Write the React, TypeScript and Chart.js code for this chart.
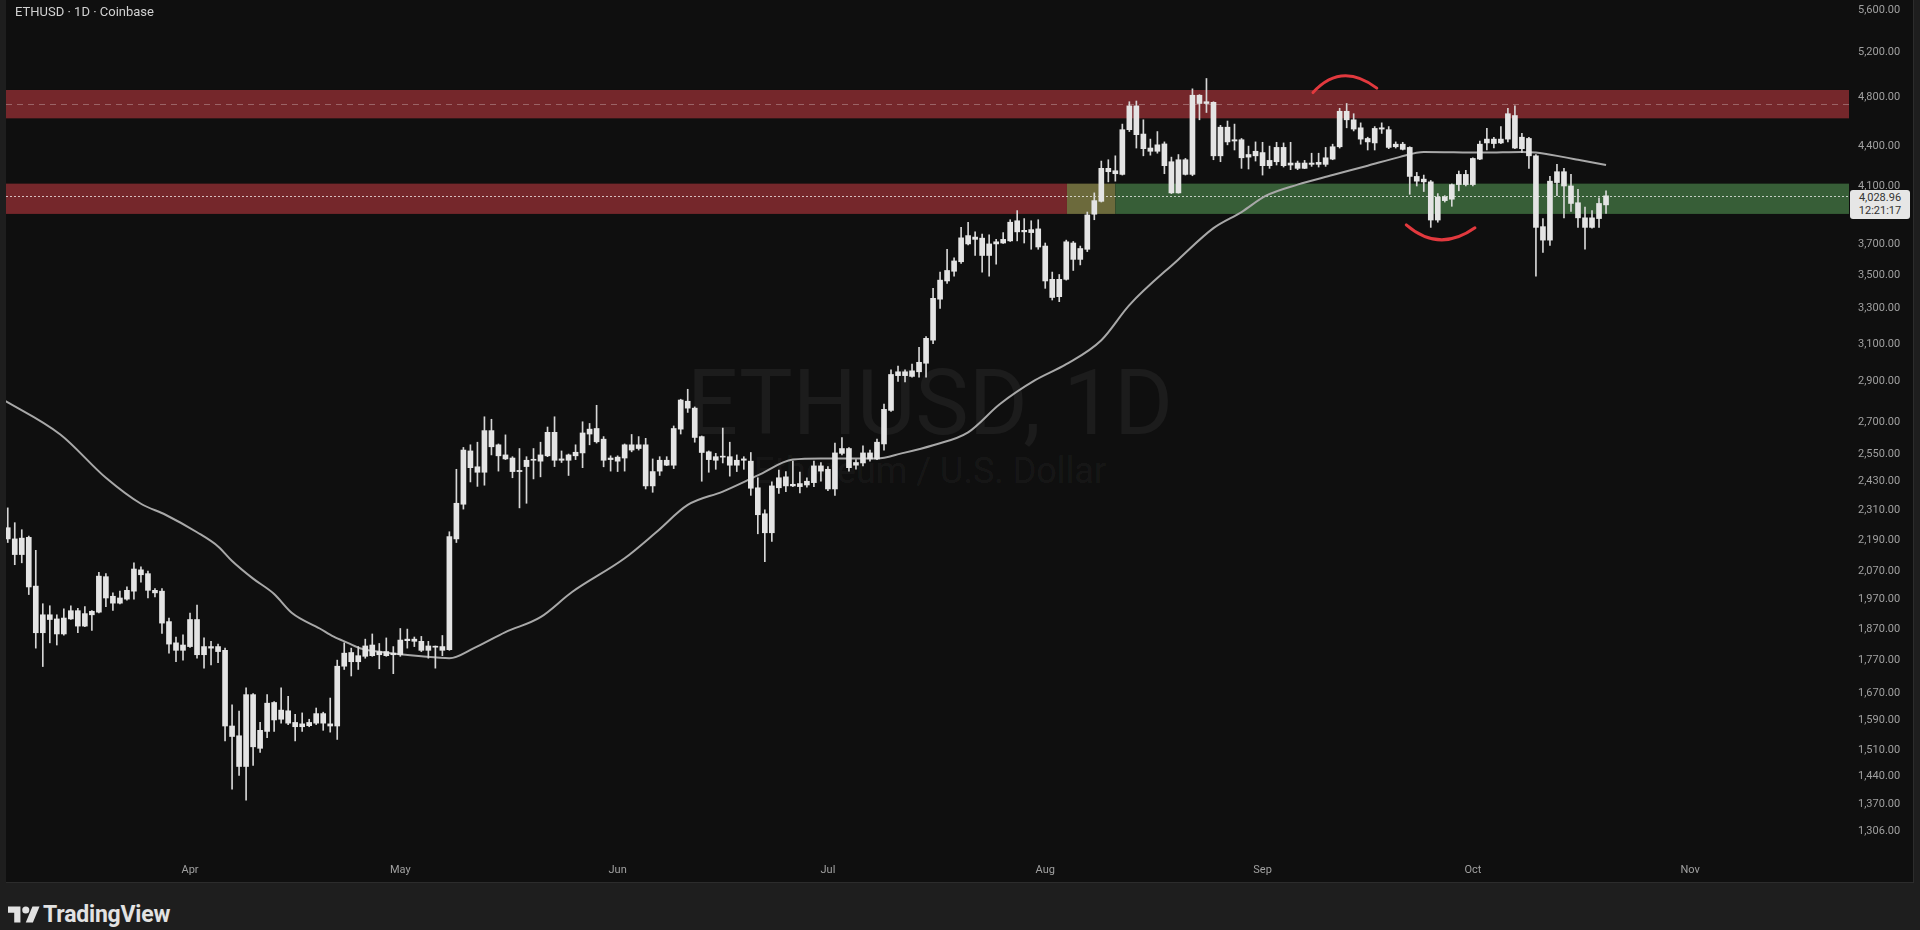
import React, { useEffect, useRef } from 'react';
import { Chart, registerables } from 'chart.js';

Chart.register(...registerables);

// Day index (Jan 1 2025 = 0) of the first daily candle (Mar 6)
const FIRST_DAY = 64;

const open = [
  2238, 2194, 2134, 2200, 2018, 1858, 1918, 1904, 1854, 1904,
  1932, 1880, 1918, 1927, 2052, 1982, 1958, 1972, 2000, 2077,
  2063, 2003, 2000, 1895, 1825, 1801, 1813, 1902, 1787, 1813,
  1813, 1801, 1575, 1548, 1466, 1665, 1514, 1560, 1642, 1594,
  1618, 1585, 1573, 1576, 1583, 1610, 1581, 1575, 1751, 1794,
  1765, 1782, 1818, 1787, 1797, 1787, 1787, 1832, 1837, 1830,
  1801, 1813, 1813, 1803, 2194, 2333, 2564, 2493, 2469, 2658,
  2592, 2546, 2532, 2472, 2494, 2522, 2518, 2542, 2650, 2522,
  2522, 2542, 2555, 2642, 2668, 2618, 2525, 2536, 2532, 2592,
  2575, 2592, 2410, 2474, 2522, 2500, 2665, 2800, 2766, 2630,
  2560, 2522, 2538, 2538, 2500, 2522, 2518, 2402, 2294, 2218,
  2402, 2449, 2410, 2420, 2414, 2424, 2497, 2482, 2397, 2553,
  2575, 2500, 2510, 2555, 2528, 2596, 2755, 2930, 2950, 2926,
  2950, 2995, 3120, 3355, 3465, 3525, 3585, 3700, 3745, 3738,
  3625, 3700, 3706, 3720, 3855, 3780, 3795, 3800, 3686, 3475,
  3370, 3475, 3706, 3600, 3665, 3900, 3990, 4230, 4190, 4185,
  4530, 4725, 4495, 4360, 4360, 4417, 4280, 4050, 4295, 4185,
  4815, 4745, 4755, 4325, 4550, 4440, 4450, 4315, 4325, 4350,
  4250, 4280, 4390, 4255, 4270, 4230, 4260, 4275, 4260, 4300,
  4395, 4680, 4610, 4545, 4460, 4425, 4535, 4530, 4395, 4415,
  4390, 4170, 4130, 4130, 3860, 3995, 4005, 4110, 4185, 4110,
  4300, 4425, 4455, 4425, 4455, 4645, 4380, 4460, 4325, 3815,
  3725, 4125, 4205, 4100, 3980, 3875, 3810, 3870, 3965,
];

const high = [
  2318, 2258, 2230, 2205, 2150, 1956, 1949, 1918, 1938, 1949,
  1940, 1946, 1932, 2068, 2063, 1994, 2000, 2015, 2103, 2088,
  2072, 2009, 2009, 1907, 1844, 1851, 1924, 1951, 1841, 1830,
  1821, 1808, 1635, 1617, 1685, 1668, 1585, 1665, 1645, 1685,
  1660, 1608, 1612, 1594, 1626, 1614, 1655, 1770, 1825, 1808,
  1813, 1837, 1854, 1823, 1841, 1813, 1872, 1870, 1844, 1846,
  1830, 1815, 1849, 2222, 2482, 2580, 2592, 2604, 2724, 2712,
  2596, 2638, 2538, 2575, 2538, 2575, 2604, 2675, 2724, 2564,
  2550, 2592, 2700, 2692, 2780, 2630, 2542, 2542, 2596, 2640,
  2630, 2622, 2528, 2538, 2538, 2680, 2810, 2860, 2772, 2633,
  2564, 2553, 2670, 2604, 2546, 2538, 2557, 2445, 2310, 2427,
  2478, 2472, 2518, 2470, 2445, 2518, 2512, 2494, 2600, 2626,
  2579, 2525, 2587, 2568, 2618, 2786, 2960, 2980, 2960, 2990,
  3080, 3140, 3420, 3520, 3665, 3610, 3810, 3845, 3780, 3765,
  3760, 3730, 3775, 3862, 3925, 3870, 3855, 3862, 3706, 3520,
  3505, 3725, 3716, 3686, 3915, 4050, 4285, 4295, 4325, 4575,
  4760, 4766, 4610, 4455, 4515, 4433, 4315, 4335, 4305, 4870,
  4820, 4960, 4760, 4565, 4600, 4575, 4460, 4400, 4433, 4430,
  4400, 4430, 4425, 4430, 4285, 4290, 4345, 4345, 4390, 4415,
  4705, 4745, 4660, 4585, 4470, 4555, 4585, 4555, 4433, 4430,
  4395, 4200, 4180, 4140, 4045, 4030, 4115, 4210, 4215, 4310,
  4440, 4540, 4470, 4555, 4705, 4725, 4500, 4470, 4335, 3870,
  4170, 4260, 4230, 4185, 4075, 3950, 3925, 4015, 4065,
];

const low = [
  2180, 2096, 2103, 1988, 1808, 1750, 1825, 1818, 1850, 1902,
  1858, 1878, 1866, 1924, 1946, 1933, 1955, 1968, 1972, 2032,
  1976, 1980, 1856, 1792, 1765, 1770, 1810, 1776, 1745, 1755,
  1762, 1534, 1408, 1443, 1381, 1469, 1503, 1543, 1560, 1583,
  1579, 1534, 1560, 1573, 1579, 1563, 1558, 1538, 1741, 1721,
  1741, 1776, 1782, 1743, 1782, 1728, 1782, 1808, 1813, 1797,
  1776, 1745, 1784, 1801, 2180, 2313, 2427, 2408, 2413, 2546,
  2474, 2525, 2445, 2318, 2337, 2440, 2449, 2538, 2494, 2512,
  2455, 2525, 2489, 2592, 2600, 2493, 2474, 2472, 2474, 2560,
  2568, 2397, 2383, 2455, 2498, 2485, 2642, 2745, 2604, 2430,
  2469, 2482, 2510, 2452, 2472, 2482, 2370, 2214, 2107, 2184,
  2378, 2386, 2407, 2380, 2405, 2407, 2430, 2390, 2370, 2546,
  2474, 2482, 2497, 2518, 2525, 2568, 2750, 2900, 2897, 2922,
  2922, 2922, 3100, 3300, 3450, 3495, 3575, 3694, 3625, 3520,
  3495, 3570, 3703, 3716, 3720, 3706, 3665, 3665, 3420, 3350,
  3340, 3470, 3530, 3565, 3650, 3862, 3985, 4130, 4135, 4180,
  4515, 4385, 4325, 4330, 4345, 4190, 4045, 4048, 4180, 4175,
  4610, 4670, 4295, 4280, 4410, 4370, 4230, 4225, 4285, 4180,
  4230, 4255, 4240, 4220, 4220, 4228, 4245, 4240, 4245, 4295,
  4385, 4545, 4520, 4415, 4370, 4370, 4500, 4380, 4385, 4370,
  4040, 4100, 4060, 3810, 3845, 3985, 3955, 4065, 4100, 4100,
  4295, 4370, 4385, 4420, 4433, 4380, 4350, 4230, 3495, 3645,
  3690, 4030, 3875, 3920, 3810, 3665, 3805, 3810, 3905,
];

const close = [
  2194, 2134, 2197, 2015, 1858, 1918, 1902, 1854, 1907, 1932,
  1880, 1922, 1930, 2054, 1976, 1958, 1976, 2003, 2080, 2059,
  2003, 1994, 1890, 1821, 1801, 1818, 1902, 1787, 1813, 1808,
  1797, 1575, 1546, 1466, 1665, 1518, 1563, 1640, 1592, 1620,
  1583, 1573, 1581, 1585, 1610, 1583, 1575, 1751, 1792, 1765,
  1784, 1815, 1784, 1797, 1784, 1792, 1834, 1837, 1830, 1801,
  1815, 1811, 1801, 2203, 2337, 2568, 2489, 2469, 2658, 2583,
  2542, 2528, 2472, 2477, 2522, 2525, 2546, 2650, 2522, 2528,
  2546, 2558, 2647, 2665, 2606, 2522, 2532, 2518, 2592, 2568,
  2592, 2410, 2472, 2522, 2500, 2668, 2806, 2766, 2626, 2557,
  2525, 2538, 2536, 2500, 2522, 2528, 2400, 2290, 2218, 2410,
  2445, 2410, 2417, 2407, 2430, 2497, 2474, 2397, 2555, 2575,
  2489, 2512, 2555, 2528, 2604, 2760, 2936, 2950, 2930, 2955,
  3000, 3130, 3360, 3470, 3530, 3590, 3740, 3755, 3730, 3625,
  3700, 3714, 3730, 3845, 3780, 3790, 3775, 3680, 3465, 3365,
  3475, 3714, 3600, 3670, 3895, 3995, 4230, 4205, 4212, 4530,
  4725, 4490, 4380, 4385, 4410, 4250, 4050, 4295, 4185, 4815,
  4745, 4760, 4325, 4550, 4433, 4450, 4310, 4335, 4360, 4250,
  4290, 4390, 4250, 4270, 4230, 4270, 4270, 4260, 4310, 4395,
  4680, 4610, 4535, 4455, 4433, 4540, 4545, 4390, 4415, 4375,
  4170, 4135, 4150, 3860, 4020, 4020, 4110, 4185, 4110, 4305,
  4415, 4455, 4420, 4455, 4660, 4385, 4470, 4325, 3810, 3725,
  4135, 4205, 4100, 3975, 3875, 3810, 3875, 3975, 4028.96,
];

// Moving average line (day index, price)
const maDays = [63, 71.5, 78, 83, 86.5, 91, 94, 96, 99, 102, 104.5, 108.5, 110.5, 112.5, 114.5, 117.5, 123, 127, 130.5, 135, 140, 144.5, 152, 156.5, 161, 166, 171, 176, 180, 188, 191.5, 196, 201, 205.5, 210.5, 215, 220, 224, 231, 236, 240, 243.5, 248, 253, 258, 262.5, 266, 274.5, 280, 282, 286, 288, 292];
const maValues = [2815, 2640, 2445, 2335, 2290, 2220, 2165, 2110, 2045, 1990, 1925, 1872, 1845, 1825, 1806, 1795, 1782, 1776, 1808, 1860, 1910, 1997, 2120, 2220, 2330, 2386, 2455, 2525, 2530, 2530, 2553, 2590, 2650, 2785, 2905, 2990, 3120, 3320, 3600, 3805, 3915, 4030, 4110, 4180, 4250, 4315, 4355, 4350, 4355, 4350, 4315, 4295, 4255];

const monthDays = [90, 120, 151, 181, 212, 243, 273, 304];
const monthLabels = ['Apr', 'May', 'Jun', 'Jul', 'Aug', 'Sep', 'Oct', 'Nov'];
const priceTicks = [5600, 5200, 4800, 4400, 4100, 3700, 3500, 3300, 3100, 2900, 2700, 2550, 2430, 2310, 2190, 2070, 1970, 1870, 1770, 1670, 1590, 1510, 1440, 1370, 1306];

const lastPrice = 4028.96;
const lastTime = '12:21:17';
const resistanceZone = [4622, 4860];
const resistanceMid = 4740;
const supportZone = [3902, 4117];
const supportGreenStartDay = 215.1;
const supportRedEndDay = 222.0;
const topArcDays = [250.2, 254.5, 259.3];
const topArcPrices = [4838, 4983, 4876];
const bottomArcDays = [263.5, 268.3, 273.3];
const bottomArcPrices = [3827, 3727, 3807];

const X_MIN = 63.75;
const X_MAX = 326.66;
const Y_MIN = 1246.6;
const Y_MAX = 5700;

const fmt = (v: number) =>
  v.toLocaleString('en-US', { minimumFractionDigits: 2, maximumFractionDigits: 2 });

const zonesPlugin = {
  id: 'zones',
  beforeDatasetsDraw(chart: any) {
    const { ctx, chartArea: a, scales } = chart;
    const x = scales.x;
    const y = scales.y;
    ctx.save();
    ctx.beginPath();
    ctx.rect(a.left, a.top, a.right - a.left, a.bottom - a.top);
    ctx.clip();
    const rTop = y.getPixelForValue(resistanceZone[1]);
    const rBot = y.getPixelForValue(resistanceZone[0]);
    ctx.fillStyle = '#75272b';
    ctx.fillRect(a.left, rTop, a.right - a.left, rBot - rTop);
    ctx.strokeStyle = 'rgba(255,255,255,0.28)';
    ctx.lineWidth = 1;
    ctx.setLineDash([6, 5]);
    const ym = Math.round(y.getPixelForValue(resistanceMid)) + 0.5;
    ctx.beginPath();
    ctx.moveTo(a.left, ym);
    ctx.lineTo(a.right, ym);
    ctx.stroke();
    const sTop = y.getPixelForValue(supportZone[1]);
    const sBot = y.getPixelForValue(supportZone[0]);
    const xg = x.getPixelForValue(supportGreenStartDay);
    const xr = x.getPixelForValue(supportRedEndDay);
    ctx.fillStyle = '#75272b';
    ctx.fillRect(a.left, sTop, xg - a.left, sBot - sTop);
    ctx.fillStyle = '#6c6a3c';
    ctx.fillRect(xg, sTop, xr - xg, sBot - sTop);
    ctx.fillStyle = '#375e37';
    ctx.fillRect(xr, sTop, a.right - xr, sBot - sTop);
    ctx.strokeStyle = 'rgba(255,255,255,0.7)';
    ctx.setLineDash([2, 2]);
    const yl = Math.round(y.getPixelForValue(lastPrice)) + 0.5;
    ctx.beginPath();
    ctx.moveTo(a.left, yl);
    ctx.lineTo(a.right, yl);
    ctx.stroke();
    ctx.restore();
  },
  afterDatasetsDraw(chart: any) {
    const { ctx, scales } = chart;
    const x = scales.x;
    const y = scales.y;
    const drawArc = (days: number[], prices: number[]) => {
      const p = days.map((d, i) => [x.getPixelForValue(d), y.getPixelForValue(prices[i])]);
      const cx = 2 * p[1][0] - (p[0][0] + p[2][0]) / 2;
      const cy = 2 * p[1][1] - (p[0][1] + p[2][1]) / 2;
      ctx.beginPath();
      ctx.moveTo(p[0][0], p[0][1]);
      ctx.quadraticCurveTo(cx, cy, p[2][0], p[2][1]);
      ctx.stroke();
    };
    ctx.save();
    ctx.strokeStyle = '#e2393e';
    ctx.lineWidth = 3;
    ctx.lineCap = 'round';
    drawArc(topArcDays, topArcPrices);
    drawArc(bottomArcDays, bottomArcPrices);
    ctx.restore();
  },
};

export default function App() {
  const canvasRef = useRef<HTMLCanvasElement | null>(null);

  useEffect(() => {
    const canvas = canvasRef.current;
    if (!canvas) return;
    const days = open.map((_, i) => FIRST_DAY + i);
    const bodies = days.map((d, i) => ({ x: d, y: [Math.min(open[i], close[i]), Math.max(open[i], close[i])] }));
    const wicks = days.map((d, i) => ({ x: d, y: [low[i], high[i]] }));
    const ma = maDays.map((d, i) => ({ x: d, y: maValues[i] }));

    const zeroPad = (s: any) => {
      s.paddingLeft = 0;
      s.paddingRight = 0;
      s.paddingTop = 0;
      s.paddingBottom = 0;
    };

    const chart = new Chart(canvas, {
      type: 'bar',
      data: {
        datasets: [
          {
            type: 'line',
            data: ma as any,
            borderColor: '#a8a8a8',
            borderWidth: 2,
            pointRadius: 0,
            cubicInterpolationMode: 'monotone',
            order: 3,
          } as any,
          {
            type: 'bar',
            data: wicks as any,
            backgroundColor: '#d6d6d6',
            barThickness: 1,
            grouped: false,
            order: 2,
          } as any,
          {
            type: 'bar',
            data: bodies as any,
            backgroundColor: '#e4e4e4',
            barThickness: 5,
            minBarLength: 1,
            grouped: false,
            order: 1,
          } as any,
        ],
      },
      options: {
        responsive: false,
        animation: false,
        devicePixelRatio: 1,
        events: [],
        layout: { padding: 0 },
        plugins: { legend: { display: false }, tooltip: { enabled: false } },
        scales: {
          x: {
            type: 'linear',
            min: X_MIN,
            max: X_MAX,
            bounds: 'data',
            offset: false,
            grid: { display: false, drawTicks: false },
            border: { display: false },
            ticks: {
              color: '#a0a0a0',
              font: { family: 'Roboto', size: 11 },
              padding: 6,
              maxRotation: 0,
              autoSkip: false,
              callback: (v: any) => {
                const i = monthDays.indexOf(Number(v));
                return i >= 0 ? monthLabels[i] : '';
              },
            },
            afterBuildTicks: (s: any) => {
              s.ticks = monthDays.map((v) => ({ value: v }));
            },
            afterFit: (s: any) => {
              s.height = 24;
              zeroPad(s);
            },
          },
          y: {
            type: 'logarithmic',
            position: 'right',
            min: Y_MIN,
            max: Y_MAX,
            bounds: 'data',
            grid: { display: false, drawTicks: false },
            border: { display: false },
            ticks: {
              color: '#a0a0a0',
              font: { family: 'Roboto', size: 11 },
              padding: 9,
              autoSkip: false,
              callback: (v: any) => fmt(Number(v)),
            },
            afterBuildTicks: (s: any) => {
              s.ticks = priceTicks.map((v) => ({ value: v }));
            },
            afterFit: (s: any) => {
              s.width = 64;
              zeroPad(s);
            },
          },
        },
      } as any,
      plugins: [zonesPlugin],
    });
    return () => chart.destroy();
  }, []);

  return (
    <div
      style={{
        position: 'fixed',
        left: 0,
        top: 0,
        width: 1920,
        height: 930,
        background: '#1e1e1e',
        overflow: 'hidden',
        fontFamily: 'Roboto, sans-serif',
      }}
    >
      <div
        style={{
          position: 'absolute',
          left: 6,
          top: 0,
          width: 1907,
          height: 882,
          background: '#0f0f0f',
          borderRight: '1px solid #2c2c2c',
          borderBottom: '1px solid #2c2c2c',
        }}
      />
      <div
        style={{
          position: 'absolute',
          left: 630,
          width: 600,
          top: 359,
          textAlign: 'center',
          fontSize: 90,
          lineHeight: '90px',
          color: 'rgba(255,255,255,0.055)',
          whiteSpace: 'nowrap',
        }}
      >
        ETHUSD, 1D
      </div>
      <div
        style={{
          position: 'absolute',
          left: 630,
          width: 600,
          top: 453,
          textAlign: 'center',
          fontSize: 36,
          lineHeight: '36px',
          color: 'rgba(255,255,255,0.055)',
          whiteSpace: 'nowrap',
        }}
      >
        Ethereum / U.S. Dollar
      </div>
      <canvas
        ref={canvasRef}
        width={1907}
        height={882}
        style={{ position: 'absolute', left: 6, top: 0, width: 1907, height: 882 }}
      />
      <div
        style={{
          position: 'absolute',
          left: 15,
          top: 4,
          fontSize: 13,
          lineHeight: '15px',
          color: '#d1d1d1',
          whiteSpace: 'nowrap',
        }}
      >
        ETHUSD · 1D · Coinbase
      </div>
      <div
        style={{
          position: 'absolute',
          left: 1850,
          top: 190,
          width: 60,
          height: 29,
          background: '#e6e6e6',
          borderRadius: 3,
          color: '#333',
          fontSize: 11,
          lineHeight: '13px',
          textAlign: 'center',
          paddingTop: 1,
          boxSizing: 'border-box',
        }}
      >
        <div>{fmt(lastPrice)}</div>
        <div>{lastTime}</div>
      </div>
      <svg
        style={{ position: 'absolute', left: 8, top: 903 }}
        width={32}
        height={23}
        viewBox="0 3 36 20"
      >
        <path d="M14 22H7V11H0V4h14v18zM28 22h-8l7.5-18h8L28 22z" fill="#e2e2e2" />
        <circle cx="20" cy="8" r="4" fill="#e2e2e2" />
      </svg>
      <div
        style={{
          position: 'absolute',
          left: 43,
          top: 901,
          fontSize: 23,
          lineHeight: '27px',
          fontWeight: 700,
          color: '#e2e2e2',
          letterSpacing: -0.2,
          whiteSpace: 'nowrap',
        }}
      >
        TradingView
      </div>
    </div>
  );
}
